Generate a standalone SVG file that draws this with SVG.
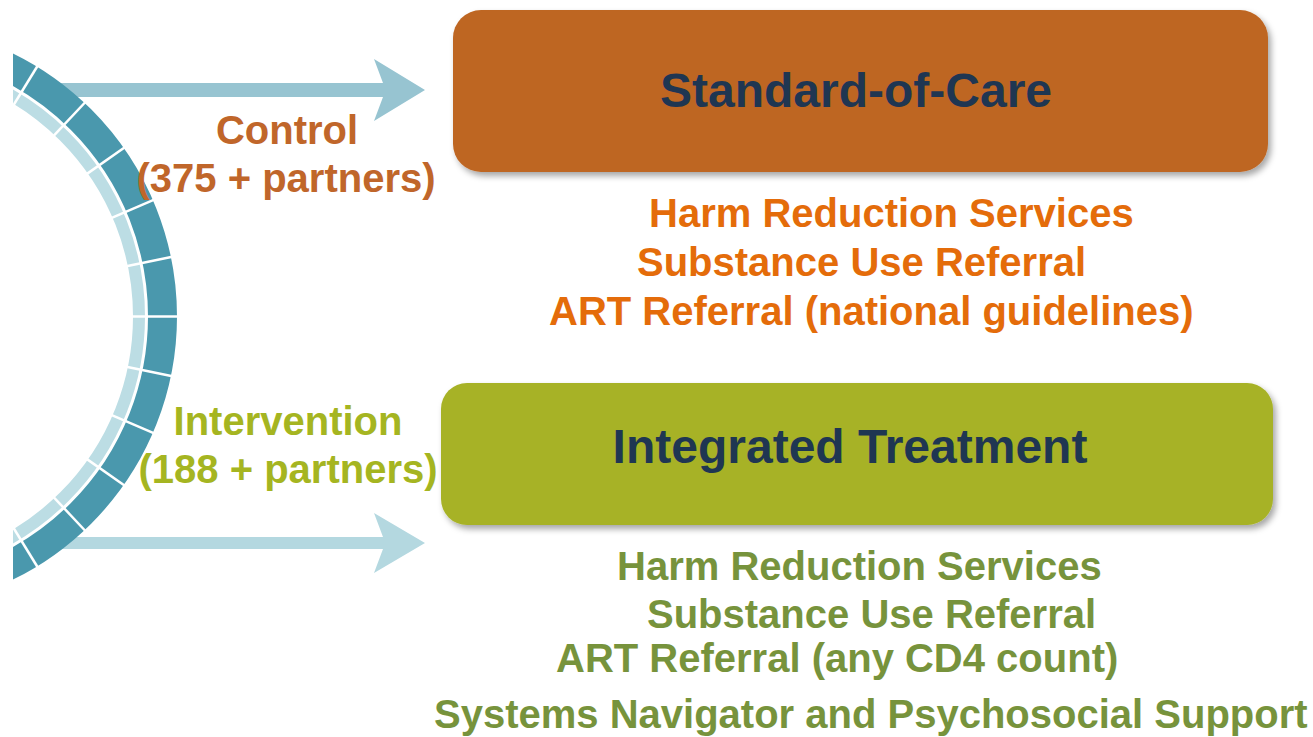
<svg xmlns="http://www.w3.org/2000/svg" width="1313" height="737" viewBox="0 0 1313 737">
  <style>
    text { font-family: "Liberation Sans", Arial, sans-serif; font-weight: bold; }
    .title { font-size: 48px; fill: #1F3652; text-anchor: middle; }
    .lbl { font-size: 40px; text-anchor: middle; }
    .ctl { fill: #C0662A; }
    .int { fill: #A5B521; }
    .soc { font-size: 40px; fill: #E46C0A; }
    .itx { font-size: 40px; fill: #77933C; }
    .sep { stroke: #FFFFFF; stroke-width: 2.5; }
  </style>
  <defs>
    <filter id="shadow" x="-5%" y="-10%" width="115%" height="130%">
      <feDropShadow dx="3" dy="4" stdDeviation="3" flood-color="#000000" flood-opacity="0.35"/>
    </filter>
    <clipPath id="clipArc">
      <rect x="13" y="0" width="300" height="737"/>
    </clipPath>
  </defs>

  <rect x="0" y="0" width="1313" height="737" fill="#FFFFFF"/>

  <g id="connectors">
    <polygon id="arrow-control" fill="#97C4D1" points="60,83 383,83 374,59 425,90 374,121 383,97 60,97"/>
    <polygon id="arrow-intervention" fill="#B4D8E0" points="60,537 383,537 374,513 425,543 374,573 383,549 60,549"/>
  </g>

  <g id="arc" clip-path="url(#clipArc)">
    <circle cx="-116" cy="316.5" r="278.5" fill="none" stroke="#4A98AD" stroke-width="29"/>
    <circle cx="-116" cy="316.5" r="255" fill="none" stroke="#BCDDE4" stroke-width="12"/>
    <line class="sep" x1="129" y1="316.5" x2="181" y2="316.5"/>
    <line class="sep" x1="129" y1="316.5" x2="181" y2="316.5" transform="rotate(11.7 -116 316.5)"/>
    <line class="sep" x1="129" y1="316.5" x2="181" y2="316.5" transform="rotate(-11.7 -116 316.5)"/>
    <line class="sep" x1="129" y1="316.5" x2="181" y2="316.5" transform="rotate(23.4 -116 316.5)"/>
    <line class="sep" x1="129" y1="316.5" x2="181" y2="316.5" transform="rotate(-23.4 -116 316.5)"/>
    <line class="sep" x1="129" y1="316.5" x2="181" y2="316.5" transform="rotate(35.1 -116 316.5)"/>
    <line class="sep" x1="129" y1="316.5" x2="181" y2="316.5" transform="rotate(-35.1 -116 316.5)"/>
    <line class="sep" x1="129" y1="316.5" x2="181" y2="316.5" transform="rotate(46.8 -116 316.5)"/>
    <line class="sep" x1="129" y1="316.5" x2="181" y2="316.5" transform="rotate(-46.8 -116 316.5)"/>
    <line class="sep" x1="129" y1="316.5" x2="181" y2="316.5" transform="rotate(58.5 -116 316.5)"/>
    <line class="sep" x1="129" y1="316.5" x2="181" y2="316.5" transform="rotate(-58.5 -116 316.5)"/>
  </g>

  <g id="label-control">
    <text class="lbl ctl" x="287" y="144">Control</text>
    <text class="lbl ctl" x="286" y="192">(375 + partners)</text>
  </g>
  <g id="label-intervention">
    <text class="lbl int" x="288" y="435">Intervention</text>
    <text class="lbl int" x="288" y="483">(188 + partners)</text>
  </g>

  <g id="node-standard-of-care">
    <rect x="453" y="10" width="815" height="162" rx="28" ry="28" fill="#BE6622" filter="url(#shadow)"/>
    <text class="title" x="856" y="107">Standard-of-Care</text>
  </g>
  <g id="soc-services">
    <text class="soc" x="649" y="227">Harm Reduction Services</text>
    <text class="soc" x="637" y="276">Substance Use Referral</text>
    <text class="soc" x="549" y="325">ART Referral (national guidelines)</text>
  </g>

  <g id="node-integrated-treatment">
    <rect x="441" y="383" width="832" height="142" rx="26" ry="26" fill="#A7B226" filter="url(#shadow)"/>
    <text class="title" x="850" y="463">Integrated Treatment</text>
  </g>
  <g id="it-services">
    <text class="itx" x="617" y="580">Harm Reduction Services</text>
    <text class="itx" x="647" y="628">Substance Use Referral</text>
    <text class="itx" x="556" y="672">ART Referral (any CD4 count)</text>
    <text class="itx" x="434" y="728">Systems Navigator and Psychosocial Support</text>
  </g>
</svg>
